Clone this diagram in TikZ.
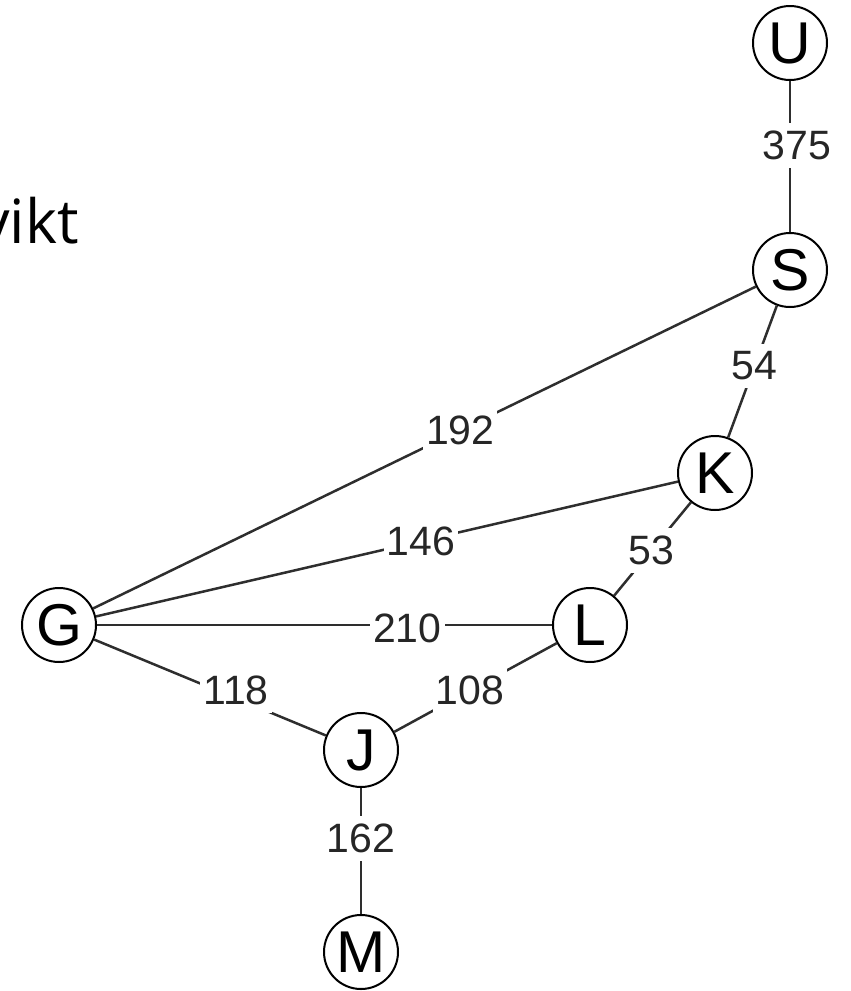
\documentclass[tikz,border=0pt]{standalone}
\usepackage{fontspec}
\setmainfont{Liberation Sans}
\newfontfamily\headfont{Open Sans}
\begin{document}
\begin{tikzpicture}[x=1pt,y=-1pt,
  vertex/.style={circle,draw=black,line width=2pt,fill=white,minimum size=74pt,
                 inner sep=0pt,font=\fontsize{59}{59}\selectfont},
  edge/.style={draw=black!82,line width=2.5pt},
  weight/.style={fill=white,inner xsep=3pt,inner ysep=8pt,text=black!85,
                 font=\fontsize{41}{41}\selectfont}]
  \useasboundingbox (0,0) rectangle (851,991);
  \clip (0,0) rectangle (851,991);

  % heading fragment at the left edge
  \node[anchor=base east,inner sep=0pt,font=\headfont\fontsize{61}{61}\selectfont]
    (title) at (79,243) {vikt};

  % vertices
  \node[vertex] (U) at (790,43)  {U};
  \node[vertex] (S) at (790,270) {S};
  \node[vertex] (K) at (715,473) {K};
  \node[vertex] (L) at (590,625) {L};
  \node[vertex] (G) at (59,625)  {G};
  \node[vertex] (J) at (361,750) {J};
  \node[vertex] (M) at (361,952) {M};

  % weighted edges
  \draw[edge] (U) -- node[weight,pos=0.424,xshift=7pt] {375} (S);
  \draw[edge] (S) -- node[weight,pos=0.458] {54} (K);
  \draw[edge] (G) -- node[weight,pos=0.554] {192} (S);
  \draw[edge] (G) -- node[weight,pos=0.558] {146} (K);
  \draw[edge] (K) -- node[weight,pos=0.511] {53} (L);
  \draw[edge] (G) -- node[weight,pos=0.682,yshift=-3pt] {210} (L);
  \draw[edge] (G) -- node[weight,pos=0.612,yshift=8pt] {118} (J);
  \draw[edge] (J) -- node[weight,pos=0.466] {108} (L);
  \draw[edge] (J) -- node[weight,pos=0.397] {162} (M);
\end{tikzpicture}
\end{document}
